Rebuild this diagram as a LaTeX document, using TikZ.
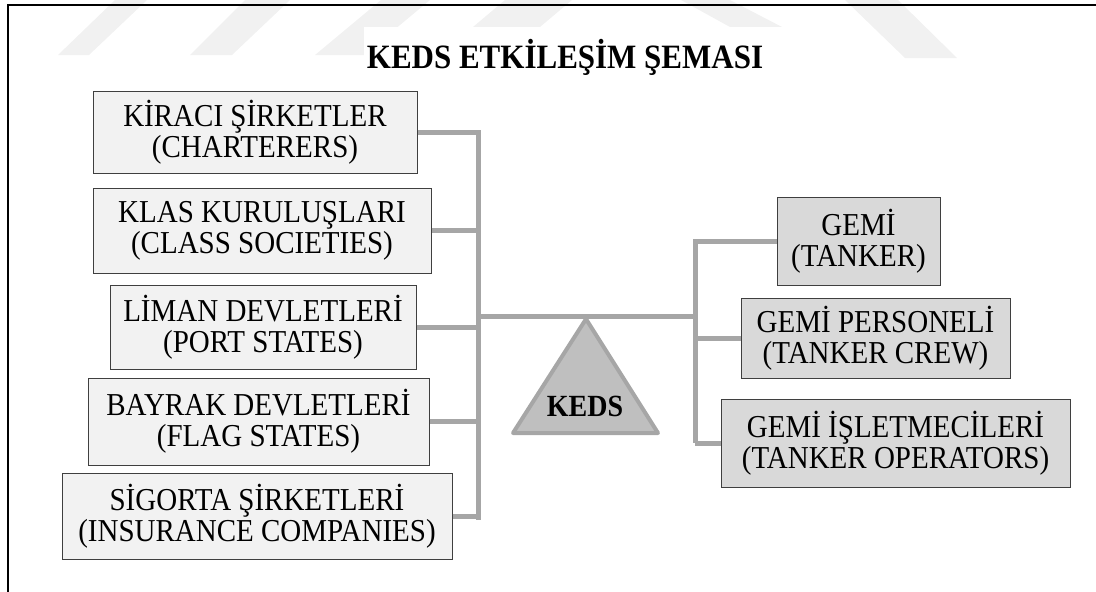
\documentclass[tikz,border=0pt]{standalone}
\usepackage{graphicx}
\usepackage{fontspec}
\setmainfont{Liberation Serif}
\definecolor{leftfill}{HTML}{F2F2F2}
\definecolor{rightfill}{HTML}{D9D9D9}
\definecolor{conncol}{HTML}{A6A6A6}
\definecolor{trifill}{HTML}{BFBFBF}
\definecolor{wm}{HTML}{F1F1F1}
\definecolor{boxline}{HTML}{3F3F3F}
\newcommand\tallt[1]{\scalebox{1}[1.1]{#1}}
\newcommand\twol[2]{\tallt{#1}\\\tallt{#2}}
\begin{document}
\begin{tikzpicture}[x=1pt,y=-1pt,
  box/.style={draw=boxline, line width=1pt, inner sep=0pt, align=center,
    font=\fontsize{29}{31}\selectfont},
  lbox/.style={box, fill=leftfill},
  rbox/.style={box, fill=rightfill},
  conn/.style={draw=conncol, line width=5pt},
  tri/.style={draw=conncol, fill=trifill, line width=4pt, line join=round},
  wmark/.style={fill=wm},
  frame/.style={draw=black, line width=1.5pt}]
\useasboundingbox (0,0) rectangle (1096,592);
% watermark
\fill[wmark] (58,55) -- (89,55) -- (147,0) -- (115,0) -- cycle;
\fill[wmark] (190,55) -- (232,55) -- (290,0) -- (245,0) -- cycle;
\fill[wmark] (315,55) -- (364,55) -- (430,0) -- (381,0) -- cycle;
\fill[wmark] (473,27) -- (540,27) -- (572,0) -- (505,0) -- cycle;
\fill[wmark] (681,0) -- (730,0) -- (782,27) -- (730,27) -- cycle;
\fill[wmark] (845,0) -- (898,0) -- (957,58) -- (905,58) -- cycle;
% frame
\draw[frame] (1096,5) -- (8,5) -- (8,592);
% title
\fill[white] (364,27) rectangle (782,95);
\node[font=\bfseries\fontsize{31}{33}\selectfont] (title) at (565,57) {\tallt{KEDS ETKİLEŞİM ŞEMASI}};
% triangle
\coordinate (apex) at (586,319);
\coordinate (tl) at (513,433);
\coordinate (tr) at (658,433);
\draw[tri] (apex) -- (tl) -- (tr) -- cycle;
\node[font=\bfseries\fontsize{28}{30}\selectfont] (keds) at (585,406) {\tallt{KEDS}};
% left boxes
\node[lbox, minimum width=324pt, minimum height=82pt] (b1) at (255,132) {\twol{KİRACI ŞİRKETLER}{(CHARTERERS)}};
\node[lbox, minimum width=338pt, minimum height=85pt] (b2) at (262,230.5) {\twol{KLAS KURULUŞLARI}{(CLASS SOCIETIES)}};
\node[lbox, minimum width=306pt, minimum height=84pt] (b3) at (263,327) {\twol{LİMAN DEVLETLERİ}{(PORT STATES)}};
\node[lbox, minimum width=341pt, minimum height=87pt] (b4) at (258.5,421.5) {\twol{BAYRAK DEVLETLERİ}{(FLAG STATES)}};
\node[lbox, minimum width=390pt, minimum height=86pt] (b5) at (257,516) {\twol{SİGORTA ŞİRKETLERİ}{(INSURANCE COMPANIES)}};
% right boxes
\node[rbox, minimum width=163pt, minimum height=88pt] (r1) at (858.5,241) {\twol{GEMİ}{(TANKER)}};
\node[rbox, minimum width=269pt, minimum height=80pt] (r2) at (875.5,338) {\twol{GEMİ PERSONELİ}{(TANKER CREW)}};
\node[rbox, minimum width=349pt, minimum height=88pt] (r3) at (895.5,443) {\twol{GEMİ İŞLETMECİLERİ}{(TANKER OPERATORS)}};
% connectors
\coordinate (lb) at (478,520);
\coordinate (lbeam) at (478,316);
\coordinate (rbeam) at (695,316);
\coordinate (rb) at (695,443);
\draw[conn] (b1.east) -| (lb);
\foreach \n in {b2,b3,b4,b5} {\draw[conn] (\n.east) -- (\n.east -| lb);}
\draw[conn] (lbeam) -- (rbeam);
\draw[conn] (r1.west) -| (rb);
\draw[conn] (r2.west) -- (r2.west -| rb);
\draw[conn] (r3.west) -- (r3.west -| rb);
\end{tikzpicture}
\end{document}
